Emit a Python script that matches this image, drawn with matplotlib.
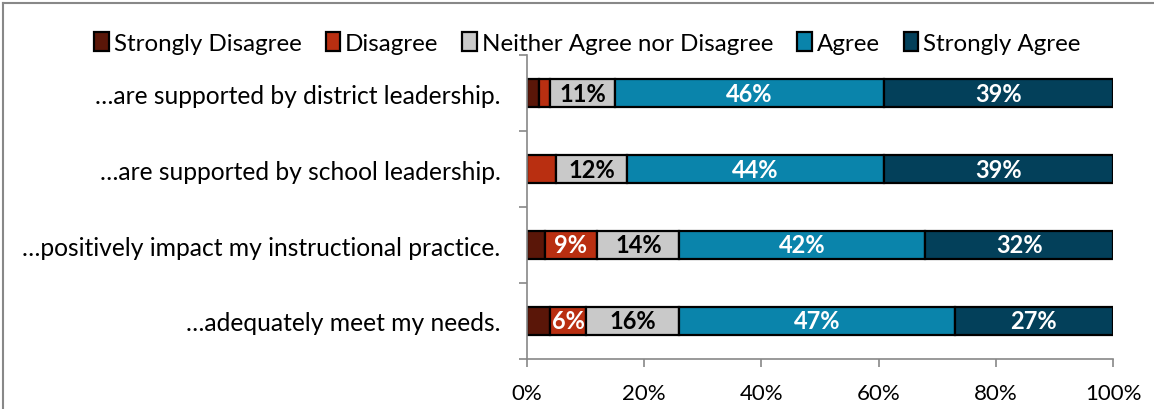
import matplotlib
matplotlib.use("Agg")
import matplotlib.pyplot as plt
from matplotlib.lines import Line2D
import numpy as np

categories = [
    "…are supported by district leadership.",
    "…are supported by school leadership.",
    "…positively impact my instructional practice.",
    "…adequately meet my needs.",
]
series_names = ["Strongly Disagree", "Disagree", "Neither Agree nor Disagree",
                "Agree", "Strongly Agree"]
strongly_disagree = [2, 0, 3, 4]
disagree = [2, 5, 9, 6]
neither = [11, 12, 14, 16]
agree = [46, 44, 42, 47]
strongly_agree = [39, 39, 32, 27]
x_ticks = [0, 20, 40, 60, 80, 100]
x_tick_labels = ["0%", "20%", "40%", "60%", "80%", "100%"]

colors = ["#5a1608", "#b92f11", "#c9c9c9", "#0a84ab", "#03405a"]
label_colors = ["white", "white", "black", "white", "white"]

plt.rcParams["font.family"] = ["Lato", "DejaVu Sans"]

fig = plt.figure(figsize=(11.54, 4.10), dpi=100)
ax = fig.add_axes([527 / 1154, 1 - 360 / 410, (1113 - 527) / 1154, (360 - 56) / 410])

series = [strongly_disagree, disagree, neither, agree, strongly_agree]
y = np.arange(len(categories))
left = np.zeros(len(categories))
for name, vals, col, lcol in zip(series_names, series, colors, label_colors):
    vals = np.array(vals, dtype=float)
    ax.barh(y, vals, left=left, height=0.37, color=col, edgecolor="black",
            linewidth=1.6, label=name)
    for yi, (l, v) in enumerate(zip(left, vals)):
        if v >= 6:
            ax.text(l + v / 2, yi, f"{v:.0f}%", ha="center", va="center",
                    color=lcol, fontsize=17, fontweight="bold")
    left += vals

ax.set_xlim(0, 100)
ax.set_ylim(len(categories) - 0.5, -0.5)
ax.set_xticks(x_ticks)
ax.set_xticklabels(x_tick_labels, fontsize=16)
ax.set_yticks(y)
ax.set_yticklabels(categories, fontsize=17.7)
ax.tick_params(axis="y", length=0, pad=19)
ax.set_yticks(np.arange(-0.5, len(categories) + 0.5, 1), minor=True)
ax.tick_params(axis="y", which="minor", length=6, color="#888888", width=1.2)
ax.tick_params(axis="x", length=6, color="#888888", width=1.2, pad=11)

for side in ["top", "right"]:
    ax.spines[side].set_visible(False)
for side in ["left", "bottom"]:
    ax.spines[side].set_color("#888888")
    ax.spines[side].set_linewidth(1.2)

handles, labels = ax.get_legend_handles_labels()
fig.legend(handles, labels, loc="center", bbox_to_anchor=(0.509, 1 - 44 / 410),
           ncol=5, frameon=False, fontsize=17.4, handlelength=0.6,
           handleheight=0.8, handletextpad=0.2, columnspacing=1.0)

# outer chart frame
fig.add_artist(Line2D([3 / 1154, 1.0], [1 - 4 / 410, 1 - 4 / 410],
                      transform=fig.transFigure, color="#888888", linewidth=1.5))
fig.add_artist(Line2D([3 / 1154, 3 / 1154], [0, 1 - 4 / 410],
                      transform=fig.transFigure, color="#888888", linewidth=1.5))

fig.savefig("out.png", dpi=100, facecolor="white")
